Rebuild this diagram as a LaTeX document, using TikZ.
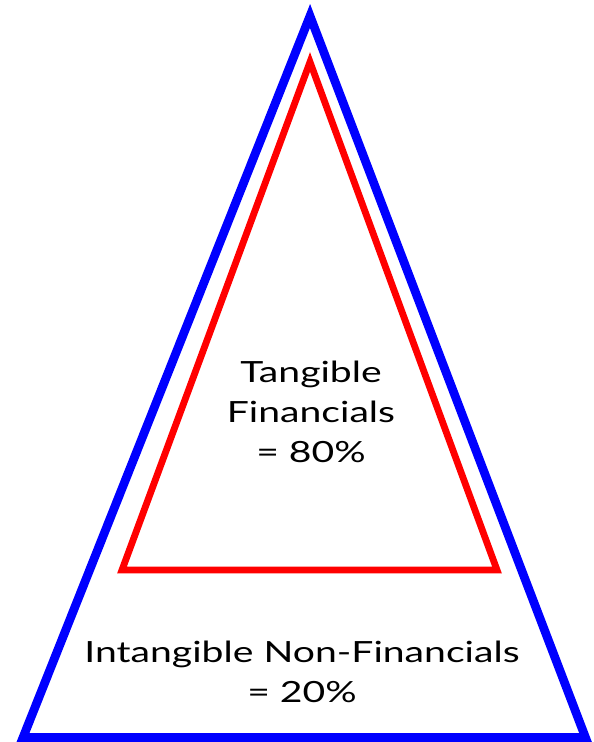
\documentclass[tikz,border=0pt]{standalone}
\usepackage{fontspec}
\setmainfont{Lato}[FakeStretch=1.34]
\definecolor{RimBlue}{HTML}{0000FF}
\definecolor{RimRed}{HTML}{FF0000}
\newcommand{\ShareFont}{\fontsize{14.6}{20}\selectfont}
\tikzset{
  outer rim/.style={draw=RimBlue,line width=4.35pt,line join=miter},
  inner rim/.style={draw=RimRed,line width=3.4pt,line join=miter},
  share label/.style={align=center,inner sep=0pt,outer sep=0pt,text=black,font=\ShareFont}
}

\begin{document}
\begin{tikzpicture}[x=0.5pt,y=-0.5pt]
  % pixel grid of the slide, y counted downwards
  \path[use as bounding box] (0,0) rectangle (593,742);

  \coordinate (outer top) at (310,16);
  \coordinate (outer left) at (23,737.5);
  \coordinate (outer right) at (585.5,737.5);
  \coordinate (inner top) at (310,62);
  \coordinate (inner left) at (122,570);
  \coordinate (inner right) at (497,570);

  \draw[outer rim] (outer top) -- (outer right) -- (outer left) -- cycle;
  \draw[inner rim] (inner top) -- (inner right) -- (inner left) -- cycle;

  % base anchor sits on the last line
  \node[share label,anchor=base] (tangible) at (311,462)
    {Tangible\\Financials\\= 80\%};
  \node[share label,anchor=base] (intangible) at (302,702)
    {Intangible Non-Financials\\= 20\%};
\end{tikzpicture}
\end{document}
